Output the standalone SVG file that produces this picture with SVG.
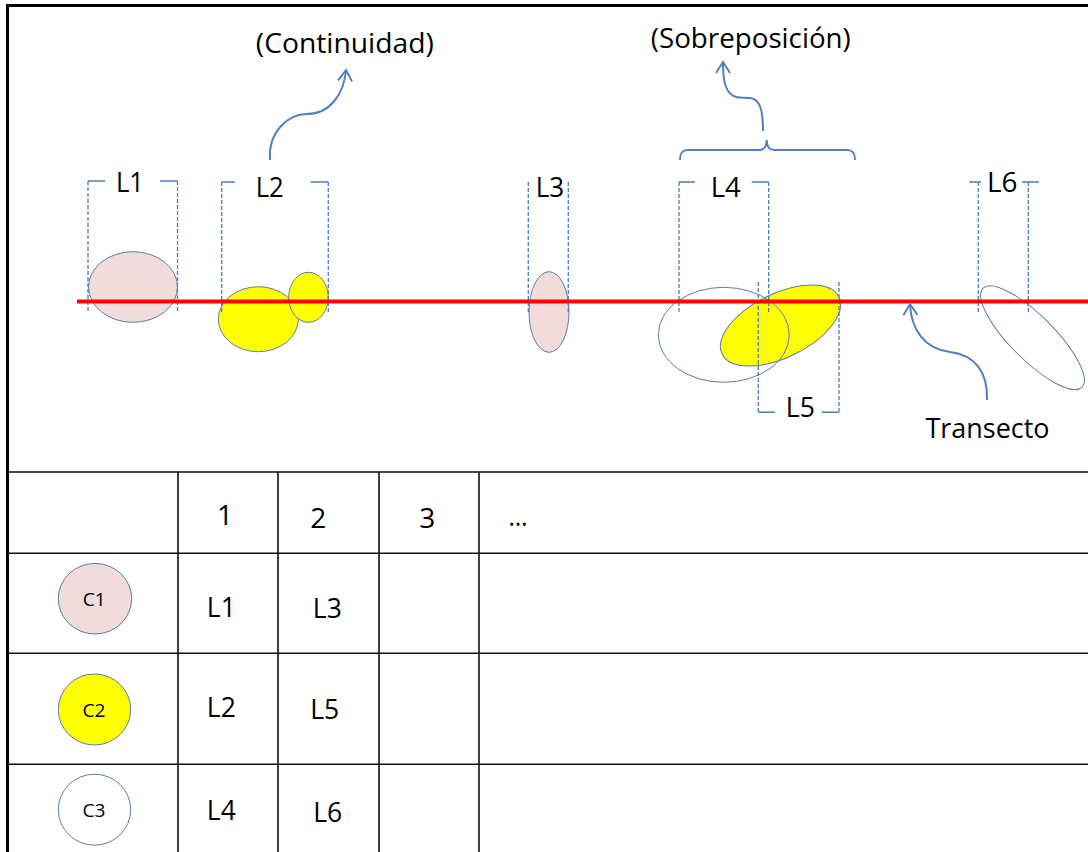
<svg xmlns="http://www.w3.org/2000/svg" width="1088" height="852" viewBox="0 0 1088 852">
<defs>
<style>
text{font-family:"Open Sans","Noto Sans","Liberation Sans",sans-serif;fill:#000}
.lbl{font-size:28px;text-anchor:middle}
.sm{font-size:18px;text-anchor:middle}
.dash{stroke:#4a7ebb;stroke-width:1.3;stroke-dasharray:4 2;fill:none}
.stub{stroke:#4a7ebb;stroke-width:1.6;fill:none}
.sh{stroke:#5a7ca6;stroke-width:1}
.pink{fill:#f2dcdb}
.yel{fill:#ffff00}
.conn{stroke:#4f81bd;stroke-width:2;fill:none}
.grid{stroke:#111;stroke-width:1.6;fill:none}
.frame{stroke:#000;stroke-width:3;fill:none}
</style>
<marker id="arr" markerUnits="userSpaceOnUse" markerWidth="20" markerHeight="20" viewBox="-14 -10 20 20" refX="0" refY="0" orient="auto">
<path d="M-11,-7 L0,0 L-11,7" fill="none" stroke="#4f81bd" stroke-width="2" stroke-linejoin="miter"/>
</marker>
</defs>
<rect width="1088" height="852" fill="#fff"/>
<path class="frame" d="M7.5,852 V5.5 H1088"/>

<g id="L1">
<ellipse class="pink sh" cx="133" cy="287" rx="44.5" ry="35.3"/>
<path class="dash" d="M88,181 V312 M177.5,181 V312"/>
<path class="stub" d="M88,181 H105 M160,181 H177.5"/>
<text class="lbl" x="130" y="192" textLength="28" lengthAdjust="spacingAndGlyphs">L1</text>
</g>

<g id="L2">
<ellipse class="yel sh" cx="258.3" cy="319.2" rx="40" ry="32.5"/>
<ellipse class="yel sh" cx="308.5" cy="297.3" rx="19.8" ry="25"/>
<path class="dash" d="M221.7,182 V312 M328.3,182 V312"/>
<path class="stub" d="M221.7,182 H235 M310.7,182 H328.3"/>
<text class="lbl" x="269.7" y="197" textLength="28" lengthAdjust="spacingAndGlyphs">L2</text>
</g>

<g id="L3">
<ellipse class="pink sh" cx="549" cy="312" rx="20" ry="40.3"/>
<path class="dash" d="M528.3,182 V312 M568.3,182 V312"/>
<text class="lbl" x="550" y="197" textLength="28.5" lengthAdjust="spacingAndGlyphs">L3</text>
</g>

<g id="L5">
<ellipse class="yel sh" cx="780.5" cy="325.5" rx="65" ry="32" transform="rotate(-26 780.5 325.5)"/>
<path class="dash" d="M758.3,282 V412.3 M839,282 V412.3"/>
<path class="stub" d="M758.3,412.3 H775 M821.7,412.3 H839"/>
<text class="lbl" x="800.3" y="417" textLength="29" lengthAdjust="spacingAndGlyphs">L5</text>
</g>

<g id="L4">
<ellipse class="sh" fill="none" cx="723.8" cy="334.8" rx="65.5" ry="47.5"/>
<path class="dash" d="M679,182 V312 M768.7,182 V312"/>
<path class="stub" d="M679,182 H695 M751.7,182 H768.7"/>
<text class="lbl" x="725.8" y="197" textLength="30" lengthAdjust="spacingAndGlyphs">L4</text>
</g>

<g id="L6">
<ellipse class="sh" fill="none" cx="1032.5" cy="337.7" rx="70" ry="22" transform="rotate(45 1032.5 337.7)"/>
<path class="dash" d="M978.3,182 V312 M1028.3,182 V312"/>
<path class="stub" d="M969.3,182 H981 M1022,182 H1039"/>
<text class="lbl" x="1002.3" y="192" textLength="30.5" lengthAdjust="spacingAndGlyphs">L6</text>
</g>

<g id="transecto">
<line x1="77" y1="301.5" x2="1088" y2="301.5" stroke="#ff0000" stroke-width="4"/>
<text class="lbl" x="987.5" y="438" textLength="124" lengthAdjust="spacingAndGlyphs">Transecto</text>
</g>

<g id="continuidad">
<text class="lbl" x="344.8" y="53" textLength="178" lengthAdjust="spacingAndGlyphs">(Continuidad)</text>
</g>

<g id="sobreposicion">
<text class="lbl" x="750.8" y="48" textLength="200" lengthAdjust="spacingAndGlyphs">(Sobreposición)</text>
<path class="conn" d="M680,160 C680,153 682,150 688,150 L759,150 C764.5,150 766.7,147 766.7,140 C766.7,147 769,150 774.5,150 L847,150 C853,150 855,153 855,160"/>
</g>

<g id="connectors">
<path class="conn" marker-end="url(#arr)" d="M270,160 C268,132 288,114 307,114 C330,114 344,94 346,70"/>
<path class="conn" marker-end="url(#arr)" d="M763,131 C763,110 760,99 750,98 C742,97 737,99 732,95 C725,90 723,80 723,62"/>
<path class="conn" marker-end="url(#arr)" d="M987,400 C988,372 975,355 950,352 C925,349 911,330 910,304"/>
</g>

<g id="table">
<path class="grid" d="M7,472 H1088 M7,553.3 H1088 M7,653.3 H1088 M7,764.3 H1088 M178,472 V852 M278,472 V852 M379,472 V852 M479,472 V852"/>
<text class="lbl" x="225" y="525">1</text>
<text class="lbl" x="318.3" y="528">2</text>
<text class="lbl" x="427.3" y="528">3</text>
<text class="lbl" x="518" y="526" textLength="19" lengthAdjust="spacingAndGlyphs">…</text>
<text class="lbl" x="221.3" y="616.7" textLength="29" lengthAdjust="spacingAndGlyphs">L1</text>
<text class="lbl" x="327.3" y="618.3" textLength="29" lengthAdjust="spacingAndGlyphs">L3</text>
<text class="lbl" x="221.3" y="716.7" textLength="29" lengthAdjust="spacingAndGlyphs">L2</text>
<text class="lbl" x="324.7" y="719.3" textLength="29" lengthAdjust="spacingAndGlyphs">L5</text>
<text class="lbl" x="221.3" y="820" textLength="29" lengthAdjust="spacingAndGlyphs">L4</text>
<text class="lbl" x="327.7" y="822.3" textLength="29" lengthAdjust="spacingAndGlyphs">L6</text>
</g>

<g id="C1">
<ellipse class="pink sh" cx="95" cy="598.7" rx="36.7" ry="35.3"/>
<text class="sm" x="94.2" y="606" textLength="23" lengthAdjust="spacingAndGlyphs">C1</text>
</g>
<g id="C2">
<ellipse class="yel sh" cx="94.5" cy="709.5" rx="36.2" ry="35.5"/>
<text class="sm" x="94" y="716.7" textLength="23" lengthAdjust="spacingAndGlyphs">C2</text>
</g>
<g id="C3">
<ellipse class="sh" fill="#fff" cx="94.5" cy="809.7" rx="36.2" ry="35.5"/>
<text class="sm" x="94" y="817.3" textLength="23" lengthAdjust="spacingAndGlyphs">C3</text>
</g>
</svg>
